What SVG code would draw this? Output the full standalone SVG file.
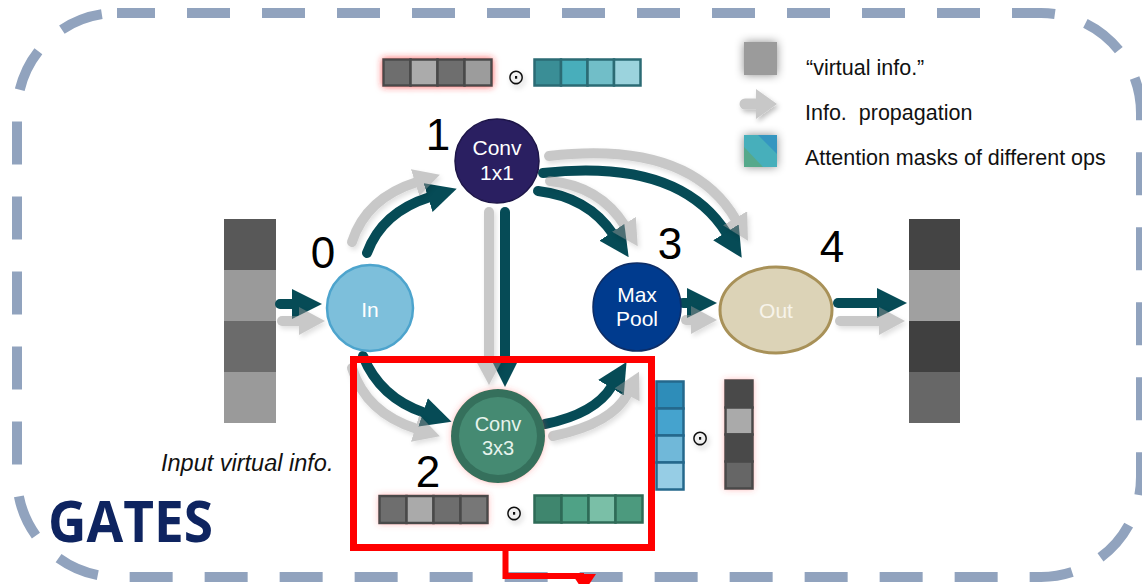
<svg xmlns="http://www.w3.org/2000/svg" width="1142" height="584" viewBox="0 0 1142 584">
<defs>
<style>
.num{font-family:"Liberation Sans",Arial,sans-serif;font-size:44px;fill:#000;text-anchor:middle}
.nt{font-family:"Liberation Sans",Arial,sans-serif;font-size:21px;fill:#fff;text-anchor:middle}
.lg{font-family:"Liberation Sans",Arial,sans-serif;font-size:21.5px;fill:#111;white-space:pre}
.dot{font-family:"DejaVu Sans",sans-serif;font-size:21px;fill:#111;text-anchor:middle}
.dk{fill:none;stroke:#064B56;stroke-width:10;stroke-linecap:round}
.gr{fill:none;stroke:#939393;stroke-width:10;stroke-linecap:round}
.gc rect{stroke:#4A4A4A;stroke-width:2.5}
.tc rect{stroke:#2B6B74;stroke-width:2.5}
.ec rect{stroke:#2E6B57;stroke-width:2.5}
.bc rect{stroke:#25688C;stroke-width:2.5}
</style>
<marker id="hd" markerUnits="userSpaceOnUse" viewBox="0 0 30 30" markerWidth="30" markerHeight="30" refX="2" refY="15" orient="auto">
<path d="M0,0 L30,15 L0,30 z" fill="#064B56"/>
</marker>
<marker id="hg" markerUnits="userSpaceOnUse" viewBox="0 0 26 28" markerWidth="26" markerHeight="28" refX="2" refY="14" orient="auto">
<path d="M0,0 L26,14 L0,28 z" fill="#939393"/>
</marker>
<filter id="pink" x="-30%" y="-60%" width="160%" height="220%">
<feDropShadow dx="0" dy="0" stdDeviation="3.5" flood-color="#ff2a2a" flood-opacity="0.75"/>
</filter>
<filter id="pinksoft" x="-30%" y="-30%" width="160%" height="160%">
<feDropShadow dx="0" dy="0" stdDeviation="3" flood-color="#ff4a4a" flood-opacity="0.35"/>
</filter>
<filter id="shd" x="-30%" y="-30%" width="160%" height="160%">
<feDropShadow dx="2" dy="3" stdDeviation="2.5" flood-color="#000" flood-opacity="0.25"/>
</filter>
<filter id="halo" x="-60%" y="-60%" width="220%" height="220%">
<feDropShadow dx="0" dy="0" stdDeviation="5" flood-color="#000" flood-opacity="0.45"/>
</filter>
</defs>
<rect width="1142" height="584" fill="#fff"/>
<rect x="17" y="13" width="1124" height="564" rx="100" ry="100" fill="none" stroke="#91A3BE" stroke-width="10" stroke-dasharray="43 32" stroke-dashoffset="5"/>

<g id="legend">
<rect x="744" y="42" width="33" height="33" fill="#9B9B9B" filter="url(#halo)"/>
<text class="lg" x="806" y="75">“virtual info.”</text>
<g filter="url(#shd)">
<line x1="745" y1="104" x2="758" y2="104" stroke="#C8C8C8" stroke-width="11" stroke-linecap="round"/>
<path d="M756,89 L777,104 L756,119 z" fill="#C8C8C8"/>
</g>
<text class="lg" x="805" y="120" xml:space="preserve">Info.  propagation</text>
<g filter="url(#halo)">
<rect x="744" y="135" width="33" height="32" fill="#46AFBB"/>
<path d="M758,135 L777,135 L777,154 z" fill="#3596C0"/>
<path d="M744,147 L744,167 L763,167 z" fill="#56A98B"/>
</g>
<text class="lg" x="805" y="165">Attention masks of different ops</text>
</g>

<g id="input-bar">
<rect x="224" y="219" width="52" height="51" fill="#585858"/>
<rect x="224" y="270" width="52" height="51" fill="#9A9A9A"/>
<rect x="224" y="321" width="52" height="51" fill="#6B6B6B"/>
<rect x="224" y="372" width="52" height="51" fill="#9A9A9A"/>
</g>
<g id="output-bar">
<rect x="909" y="219" width="51" height="51" fill="#444444"/>
<rect x="909" y="270" width="51" height="51" fill="#A0A0A0"/>
<rect x="909" y="321" width="51" height="51" fill="#404040"/>
<rect x="909" y="372" width="51" height="51" fill="#676767"/>
</g>

<g id="connectors">
<g id="dark-arrows">
<path class="dk" d="M280,304 H294" marker-end="url(#hd)"/>
<path class="dk" d="M367,253 Q382,212 430,197" marker-end="url(#hd)"/>
<path class="dk" d="M505,212 V359" marker-end="url(#hd)"/>
<path class="dk" d="M538,191 Q588,197 613,234" marker-end="url(#hd)"/>
<path class="dk" d="M543,173 Q680,158 727,234" marker-end="url(#hd)"/>
<path class="dk" d="M363,356 Q380,398 425,413" marker-end="url(#hd)"/>
<path class="dk" d="M545,424 Q595,414 612,386" marker-end="url(#hd)"/>
<path class="dk" d="M683,303 H689" marker-end="url(#hd)"/>
<path class="dk" d="M838,303 H879" marker-end="url(#hd)"/>
</g>
<g id="gray-arrows" opacity="0.5" filter="url(#shd)">
<path class="gr" d="M282,321 H301" marker-end="url(#hg)"/>
<path class="gr" d="M352,242 Q366,198 417,182" marker-end="url(#hg)"/>
<path class="gr" d="M489,212 V361" marker-end="url(#hg)"/>
<path class="gr" d="M550,181 Q600,186 625,226" marker-end="url(#hg)"/>
<path class="gr" d="M549,156 Q690,140 736,220" marker-end="url(#hg)"/>
<path class="gr" d="M352,368 Q366,413 417,429" marker-end="url(#hg)"/>
<path class="gr" d="M553,436 Q612,424 628,393" marker-end="url(#hg)"/>
<path class="gr" d="M686,320 H693" marker-end="url(#hg)"/>
<path class="gr" d="M840,321 H881" marker-end="url(#hg)"/>
</g>
<g id="red-link">
<rect x="353.5" y="359.5" width="298" height="188" fill="none" stroke="#FF0000" stroke-width="7"/>
<path d="M505.5,551 V576 H584" fill="none" stroke="#FF0000" stroke-width="6"/>
<path d="M572,574 L596,574 L584,592 z" fill="#FF0000"/>
</g>
</g>

<g id="node-in">
<circle cx="370" cy="308" r="43" fill="#7DBFDB" stroke="#4DA4CD" stroke-width="2.5"/>
<text class="nt" x="370" y="317">In</text>
<text class="num" x="323" y="268">0</text>
</g>
<g id="node-conv1x1">
<circle cx="497" cy="161" r="42" fill="#2A1F61" stroke="#1D1548" stroke-width="1.5"/>
<text class="nt" x="497" y="155">Conv</text>
<text class="nt" x="497" y="180">1x1</text>
<text class="num" x="438" y="150">1</text>
</g>
<g id="node-conv3x3">
<circle cx="498" cy="436" r="47" fill="#36705C" filter="url(#pinksoft)"/>
<circle cx="498" cy="436" r="39" fill="#458A72"/>
<text class="nt" x="498" y="431" style="font-size:20px;fill:#E6F3EC">Conv</text>
<text class="nt" x="498" y="455" style="font-size:20px;fill:#E6F3EC">3x3</text>
<text class="num" x="428" y="487">2</text>
</g>
<g id="node-maxpool">
<circle cx="637" cy="307" r="44" fill="#003B8E" stroke="#0D2D66" stroke-width="1.5"/>
<text class="nt" x="637" y="302">Max</text>
<text class="nt" x="637" y="326">Pool</text>
<text class="num" x="670" y="259">3</text>
</g>
<g id="node-out">
<ellipse cx="776" cy="310" rx="56" ry="43" fill="#DCD3B7" stroke="#A89158" stroke-width="3"/>
<text class="nt" x="776" y="318" style="fill:#F7F3EA">Out</text>
<text class="num" x="832" y="262">4</text>
</g>

<g id="mask-conv1x1">
<g class="gc" filter="url(#pink)">
<rect x="383.5" y="59.5" width="27" height="26" fill="#6E6E6E"/>
<rect x="410.5" y="59.5" width="27" height="26" fill="#ABABAB"/>
<rect x="437.5" y="59.5" width="27" height="26" fill="#6E6E6E"/>
<rect x="464.5" y="59.5" width="27" height="26" fill="#9C9C9C"/>
</g>
<text class="dot" x="516" y="84" filter="url(#shd)">⊙</text>
<g class="tc">
<rect x="534.5" y="59.5" width="26.5" height="26" fill="#3A8E96"/>
<rect x="561" y="59.5" width="26.5" height="26" fill="#48AEBB"/>
<rect x="587.5" y="59.5" width="26.5" height="26" fill="#71BEC8"/>
<rect x="614" y="59.5" width="26.5" height="26" fill="#9BD3DD"/>
</g>
</g>

<g id="mask-conv3x3">
<g class="gc" filter="url(#pinksoft)">
<rect x="379.5" y="496" width="27" height="27" fill="#6E6E6E"/>
<rect x="406.5" y="496" width="27" height="27" fill="#AAAAAA"/>
<rect x="433.5" y="496" width="27" height="27" fill="#6E6E6E"/>
<rect x="460.5" y="496" width="27" height="27" fill="#777777"/>
</g>
<text class="dot" x="514" y="520" filter="url(#shd)">⊙</text>
<g class="ec">
<rect x="534.5" y="495.5" width="27" height="27" fill="#3F866E"/>
<rect x="561.5" y="495.5" width="27" height="27" fill="#4FA286"/>
<rect x="588.5" y="495.5" width="27" height="27" fill="#7ABFA7"/>
<rect x="615.5" y="495.5" width="27" height="27" fill="#4C9A7E"/>
</g>
</g>

<g id="mask-maxpool">
<g class="bc">
<rect x="656.5" y="381.5" width="27" height="27" fill="#2E8DB9"/>
<rect x="656.5" y="408.5" width="27" height="27" fill="#45A3CE"/>
<rect x="656.5" y="435.5" width="27" height="27" fill="#70B8D9"/>
<rect x="656.5" y="462.5" width="27" height="27" fill="#96CDE5"/>
</g>
<text class="dot" x="700" y="445" filter="url(#shd)">⊙</text>
<g class="gc" filter="url(#pinksoft)">
<rect x="725.5" y="380.5" width="27" height="27" fill="#4A4A4A"/>
<rect x="725.5" y="407.5" width="27" height="27" fill="#AAAAAA"/>
<rect x="725.5" y="434.5" width="27" height="27" fill="#4A4A4A"/>
<rect x="725.5" y="461.5" width="27" height="27" fill="#666666"/>
</g>
</g>

<text x="161" y="471" style="font-family:'Liberation Sans',Arial,sans-serif;font-size:23.5px;font-style:italic;fill:#111">Input virtual info.</text>
<text x="48" y="542" textLength="165" lengthAdjust="spacingAndGlyphs" style="font-family:'Open Sans','Liberation Sans',sans-serif;font-size:58px;font-weight:700;fill:#0E2460">GATES</text>
</svg>
